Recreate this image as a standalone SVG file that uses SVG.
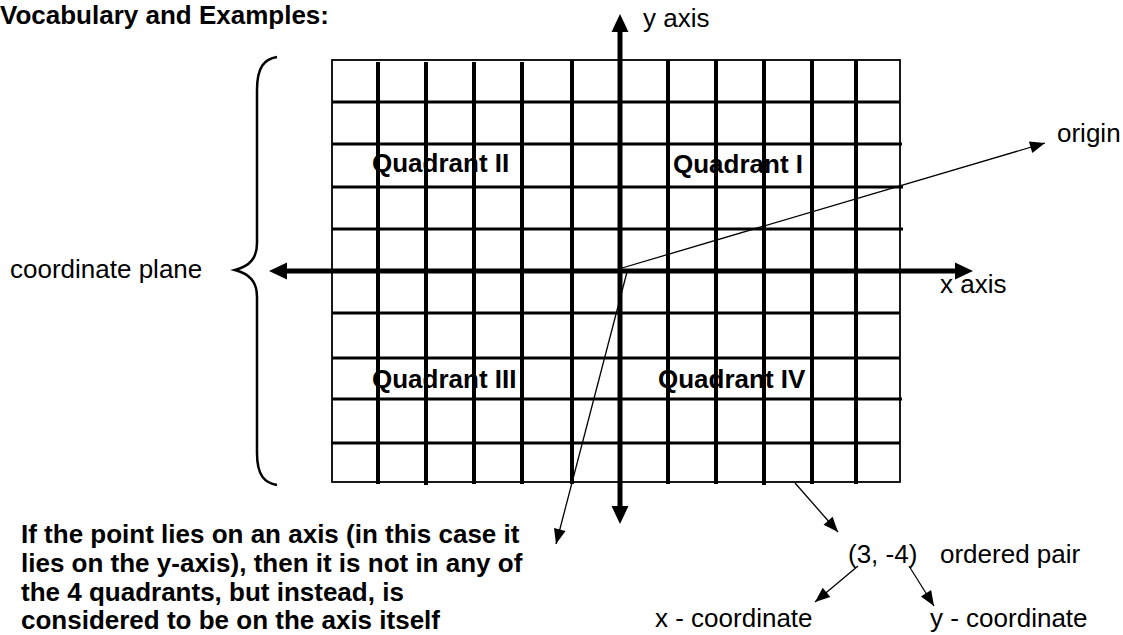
<svg xmlns="http://www.w3.org/2000/svg" width="1123" height="635" viewBox="0 0 1123 635">
<style>
text{font-family:"Liberation Sans",Arial,sans-serif;font-size:26px;fill:#000}
.b{font-weight:bold}
.hl{stroke:#000;stroke-width:3}
.vl{stroke:#000;stroke-width:4}
.border{fill:none;stroke:#000;stroke-width:1.8}
.axis{stroke:#000;stroke-width:5;marker-start:url(#big);marker-end:url(#big)}
.thin{stroke:#000;stroke-width:1.3;fill:none;marker-end:url(#small)}
</style>
<defs>
<marker id="big" markerUnits="userSpaceOnUse" markerWidth="19" markerHeight="18" refX="0" refY="8.5" orient="auto-start-reverse" overflow="visible"><path d="M0,0 L18,8.5 L0,17 z" fill="#000"/></marker>
<marker id="small" markerUnits="userSpaceOnUse" markerWidth="16" markerHeight="13" refX="15" refY="6" orient="auto" overflow="visible"><path d="M0,0 L15,6 L0,12 z" fill="#000"/></marker>
</defs>
<rect width="1123" height="635" fill="#fff"/>
<g id="title"><text class="b" x="0" y="24">Vocabulary and Examples:</text></g>
<g id="grid">
<rect class="border" x="332" y="60" width="568" height="422"/>
<g class="hl">
<line x1="332" y1="102" x2="900" y2="102"/>
<line x1="332" y1="144" x2="902" y2="144"/>
<line x1="332" y1="187" x2="903" y2="187"/>
<line x1="332" y1="229" x2="903" y2="229"/>
<line x1="332" y1="313" x2="900" y2="313"/>
<line x1="332" y1="358" x2="900" y2="358"/>
<line x1="332" y1="399" x2="902" y2="399"/>
<line x1="331" y1="443" x2="900" y2="443"/>
</g>
<g class="vl">
<line x1="378" y1="62" x2="378" y2="484"/>
<line x1="426" y1="62" x2="426" y2="485"/>
<line x1="474" y1="62" x2="474" y2="484"/>
<line x1="522" y1="62" x2="522" y2="484"/>
<line x1="572" y1="60" x2="572" y2="484"/>
<line x1="668" y1="60" x2="668" y2="484"/>
<line x1="716" y1="60" x2="716" y2="484"/>
<line x1="764" y1="60" x2="764" y2="485"/>
<line x1="812" y1="60" x2="812" y2="484"/>
<line x1="856" y1="60" x2="856" y2="484"/>
</g>
</g>
<g id="axes">
<line class="axis" x1="287" y1="271" x2="955" y2="271"/>
<line class="axis" x1="620" y1="32" x2="620" y2="506"/>
</g>
<g id="brace"><path d="M277,57 C265,59 257,66 257,90 L257,243 C257,258 250,266 235,270 C250,274 257,282 257,297 L257,453 C257,476 265,483 277,485" fill="none" stroke="#000" stroke-width="2.5"/></g>
<g id="quadrants">
<text class="b" x="372" y="172">Quadrant II</text>
<text class="b" x="673" y="173">Quadrant I</text>
<text class="b" x="372" y="388">Quadrant III</text>
<text class="b" x="658" y="388">Quadrant IV</text>
</g>
<g id="labels">
<text x="643" y="27">y axis</text>
<text x="1057" y="142">origin</text>
<text x="940" y="293">x axis</text>
<text x="10" y="278">coordinate plane</text>
<text x="848" y="563">(3, -4)</text>
<text x="940" y="563">ordered pair</text>
<text x="655" y="627">x - coordinate</text>
<text x="930" y="627">y - coordinate</text>
</g>
<g id="note">
<text class="b" x="21" y="543">If the point lies on an axis (in this case it</text>
<text class="b" x="21" y="572">lies on the y-axis), then it is not in any of</text>
<text class="b" x="21" y="601">the 4 quadrants, but instead, is</text>
<text class="b" x="21" y="629">considered to be on the axis itself</text>
</g>
<g id="connectors">
<line class="thin" x1="622" y1="268" x2="1045" y2="143"/>
<line class="thin" x1="627" y1="272" x2="556" y2="544"/>
<line class="thin" x1="795" y1="483" x2="838" y2="532"/>
<line class="thin" x1="858" y1="566" x2="815" y2="602"/>
<line class="thin" x1="909" y1="566" x2="934" y2="606"/>
</g>
</svg>
